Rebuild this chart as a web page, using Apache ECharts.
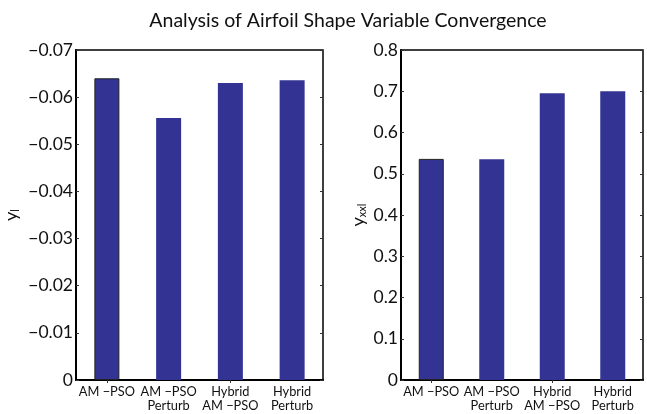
<!DOCTYPE html>
<html>
<head>
<meta charset="utf-8">
<script src="https://cdn.jsdelivr.net/npm/echarts@6/dist/echarts.min.js"></script>
<style>
  html, body { margin: 0; padding: 0; background: #fff; }
  #chart { width: 647px; height: 414px; }
</style>
</head>
<body>
<div id="chart"></div>
<script>
// Categories shared by both panels
const categories = ['AM \u2212PSO', 'AM \u2212PSO\nPerturb', 'Hybrid\nAM \u2212PSO', 'Hybrid\nPerturb'];
// Left panel: y_l values
const yLValues = [-0.064, -0.0556, -0.063, -0.0636];
// Right panel: y_xxl values
const yXXLValues = [0.536, 0.535, 0.695, 0.700];

const titleText = 'Analysis of Airfoil Shape Variable Convergence';
const FONT = 'Lato, "Open Sans", sans-serif';
const BAR_COLOR = '#333394';

function fmtNeg(v) {
  if (Math.abs(v) < 1e-9) return '0';
  return '\u2212' + Math.abs(v).toFixed(2);
}
function fmtPos(v) {
  if (Math.abs(v) < 1e-9) return '0';
  return v.toFixed(1);
}

function barData(values) {
  return values.map((v, i) => i === 0
    ? { value: v, itemStyle: { borderColor: '#222', borderWidth: 1 } }
    : { value: v });
}

const grids = [
  { left: 76, right: 324, top: 50, bottom: 34, show: true, borderColor: '#000', borderWidth: 1.5, backgroundColor: 'transparent' },
  { left: 401, right: 4, top: 50, bottom: 34, show: true, borderColor: '#000', borderWidth: 1.5, backgroundColor: 'transparent' }
];

function xAxesFor(g) {
  return [
    {
      type: 'category', gridIndex: g, data: categories, position: 'bottom',
      axisLine: { show: true, lineStyle: { color: '#000', width: 2 } },
      axisTick: { show: false },
      axisLabel: { color: '#111', fontFamily: FONT, fontSize: 12.8, lineHeight: 14, margin: 5, interval: 0 }
    },
    {
      type: 'category', gridIndex: g, data: categories, position: 'top',
      axisLine: { show: false },
      axisTick: { show: true, inside: true, alignWithLabel: true, length: 3, lineStyle: { color: '#333' } },
      axisLabel: { show: false }
    }
  ];
}

const option = {
  animation: false,
  backgroundColor: '#fff',
  title: {
    text: titleText, left: 343, top: 6, textAlign: 'center',
    textStyle: { fontFamily: FONT, fontSize: 19.5, fontWeight: 'normal', color: '#111' }
  },
  grid: grids,
  xAxis: [...xAxesFor(0), ...xAxesFor(1)],
  yAxis: [
    {
      type: 'value', gridIndex: 0, min: -0.07, max: 0, interval: 0.01, inverse: true,
      name: '{v|y}{s|l}', nameLocation: 'middle', nameGap: 55, nameRotate: 90,
      nameTextStyle: { rich: { v: { fontFamily: FONT, fontSize: 18, color: '#111' }, s: { fontFamily: FONT, fontSize: 11, color: '#111', verticalAlign: 'bottom', padding: [8, 0, 0, 0] } } },
      axisLine: { show: true, lineStyle: { color: '#000', width: 2 } },
      axisTick: { show: true, inside: true, length: 3, lineStyle: { color: '#333' } },
      splitLine: { show: false },
      axisLabel: { formatter: fmtNeg, color: '#111', fontFamily: FONT, fontSize: 17.5, margin: 3 }
    },
    {
      type: 'value', gridIndex: 0, min: -0.07, max: 0, interval: 0.01, inverse: true, position: 'right',
      axisLine: { show: false },
      axisTick: { show: true, inside: true, length: 3, lineStyle: { color: '#333' } },
      splitLine: { show: false }, axisLabel: { show: false }
    },
    {
      type: 'value', gridIndex: 1, min: 0, max: 0.8, interval: 0.1,
      name: '{v|y}{s|xxl}', nameLocation: 'middle', nameGap: 33, nameRotate: 90,
      nameTextStyle: { rich: { v: { fontFamily: FONT, fontSize: 18, color: '#111' }, s: { fontFamily: FONT, fontSize: 11, color: '#111', verticalAlign: 'bottom', padding: [8, 0, 0, 0] } } },
      axisLine: { show: true, lineStyle: { color: '#000', width: 2 } },
      axisTick: { show: true, inside: true, length: 3, lineStyle: { color: '#333' } },
      splitLine: { show: false },
      axisLabel: { formatter: fmtPos, color: '#111', fontFamily: FONT, fontSize: 17.5, margin: 3 }
    },
    {
      type: 'value', gridIndex: 1, min: 0, max: 0.8, interval: 0.1, position: 'right',
      axisLine: { show: false },
      axisTick: { show: true, inside: true, length: 3, lineStyle: { color: '#333' } },
      splitLine: { show: false }, axisLabel: { show: false }
    }
  ],
  series: [
    {
      type: 'bar', xAxisIndex: 0, yAxisIndex: 0, data: barData(yLValues),
      barWidth: 25, itemStyle: { color: BAR_COLOR }
    },
    {
      type: 'bar', xAxisIndex: 2, yAxisIndex: 2, data: barData(yXXLValues),
      barWidth: 25, itemStyle: { color: BAR_COLOR }
    }
  ]
};

const chart = echarts.init(document.getElementById('chart'), null, { renderer: 'canvas' });
chart.setOption(option);
</script>
</body>
</html>
